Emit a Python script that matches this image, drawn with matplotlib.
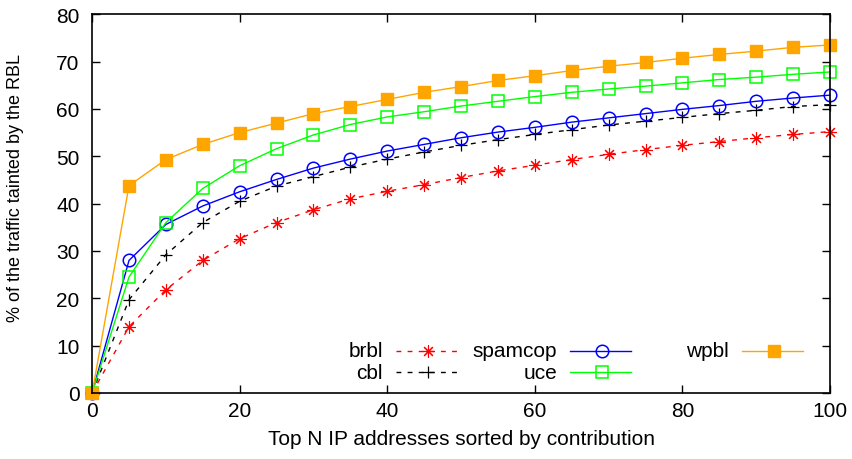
import matplotlib

matplotlib.use('Agg')

import matplotlib.pyplot as plt
from matplotlib.lines import Line2D

plt.rcParams['font.family'] = ['Liberation Sans', 'DejaVu Sans']
plt.rcParams['font.size'] = 15

topN = [0, 5, 10, 15, 20, 25, 30, 35, 40, 45, 50, 55, 60, 65, 70, 75, 80, 85, 90, 95, 100]

brbl = [0, 14.0, 21.8, 28.0, 32.6, 36.0, 38.7, 41.0, 42.6, 44.0, 45.5, 46.9, 48.1,
        49.3, 50.4, 51.4, 52.3, 53.1, 53.9, 54.6, 55.2]
cbl = [0, 19.7, 29.2, 36.0, 40.5, 43.7, 45.7, 47.7, 49.4, 50.9, 52.3, 53.5, 54.6,
       55.6, 56.6, 57.4, 58.2, 59.0, 59.7, 60.5, 60.9]
spamcop = [0, 28.0, 35.6, 39.5, 42.5, 45.1, 47.5, 49.4, 51.1, 52.5, 53.9, 55.1, 56.1,
           57.2, 58.1, 59.0, 59.9, 60.7, 61.6, 62.3, 62.9]
uce = [0, 24.5, 36.0, 43.2, 48.0, 51.6, 54.5, 56.7, 58.3, 59.4, 60.6, 61.6, 62.6,
       63.5, 64.2, 64.8, 65.5, 66.2, 66.7, 67.3, 67.8]
wpbl = [0, 43.8, 49.3, 52.5, 55.0, 57.0, 59.0, 60.5, 62.0, 63.5, 64.7, 66.0, 67.0,
        68.1, 69.0, 69.8, 70.7, 71.5, 72.2, 73.0, 73.5]

nomes = ['brbl', 'cbl', 'spamcop', 'uce', 'wpbl']
cores = ['#ff0000', '#000000', '#0000ff', '#00ff00', '#ffa500']

fig = plt.figure(figsize=(8.53, 4.6), dpi=100)
ax = fig.add_axes([0.108, 0.1435, 0.865, 0.8235])

tracos = (0, (3.5, 4.5))
estilos = [
    dict(color=cores[0], ls=tracos, marker=(8, 2, 0), ms=9, mew=0.8, mfc='none'),
    dict(color=cores[1], ls=tracos, marker='+', ms=9, mew=0.9),
    dict(color=cores[2], ls='-', marker='o', ms=9, mew=1.1, mfc='none'),
    dict(color=cores[3], ls='-', marker='s', ms=8, mew=1.1, mfc='none'),
    dict(color=cores[4], ls='-', marker='s', ms=8, mew=1.0, mfc=cores[4]),
]
series = [brbl, cbl, spamcop, uce, wpbl]

for s, st in zip(series, estilos):
    ax.plot(topN, s, lw=1.0, clip_on=False, **st)

ax.set_xlim(0, 100)
ax.set_ylim(0, 80)
ax.set_xticks(range(0, 101, 20))
ax.set_yticks(range(0, 81, 10))
ax.tick_params(direction='in', top=True, right=True, length=6, width=1, pad=6)
ax.tick_params(axis='y', pad=9)
for sp in ax.spines.values():
    sp.set_linewidth(1.2)

ax.set_xlabel('Top N IP addresses sorted by contribution', labelpad=6)
ax.set_ylabel('% of the traffic tainted by the RBL', fontsize=13)
ax.yaxis.set_label_coords(-0.092, 0.545)

# legenda estilo gnuplot: texto alinhado a direita, amostra depois
posicoes = [(0.394, 0.111), (0.394, 0.055), (0.630, 0.111), (0.630, 0.055), (0.863, 0.111)]
for nome, st, (px, py) in zip(nomes, estilos, posicoes):
    ax.text(px, py, nome, transform=ax.transAxes, ha='right', va='center')
    x0 = px + 0.018
    x1 = x0 + 0.082
    ax.add_line(Line2D([x0, x1], [py, py], transform=ax.transAxes, lw=1.0,
                       color=st['color'], ls=st['ls']))
    ax.add_line(Line2D([(x0 + x1) / 2 + 0.002], [py], transform=ax.transAxes,
                       color=st['color'], marker=st['marker'], ms=st['ms'], mew=st['mew'],
                       mfc=st.get('mfc', st['color']), ls='none'))

fig.savefig('out.png', dpi=100)
